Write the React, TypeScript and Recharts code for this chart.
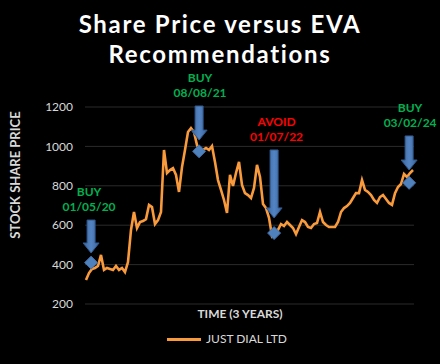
import React from 'react';
import { ComposedChart, Line, Scatter, XAxis, YAxis, CartesianGrid, ReferenceLine } from 'recharts';

// share price, sampled evenly over the three years
const prices = [
  322, 357, 378, 383, 393, 449, 373, 383, 378, 373,
  393, 373, 383, 362, 413, 576, 667, 586, 616, 621,
  631, 703, 692, 606, 626, 667, 982, 865, 880, 890,
  855, 769, 895, 982, 1073, 1093, 1073, 1007, 972, 982,
  992, 982, 1002, 921, 829, 779, 728, 662, 855, 799,
  865, 921, 804, 763, 753, 738, 789, 906, 845, 708,
  687, 637, 545, 560, 576, 606, 596, 616, 601, 586,
  555, 591, 626, 616, 591, 586, 606, 611, 667, 616,
  601, 591, 591, 591, 616, 667, 687, 697, 713, 738,
  763, 763, 829, 779, 769, 753, 728, 713, 743, 753,
  733, 713, 703, 763, 794, 809, 860, 845, 865, 880,
];

// EVA recommendations
const signalStep = [1.7, 37.7, 62.7, 107.7];
const signalPrice = [410, 975, 560, 815];
const signalAction = ['BUY', 'BUY', 'AVOID', 'BUY'];
const signalDate = ['01/05/20', '08/08/21', '01/07/22', '03/02/24'];
const arrowFrom = [626, 1205, 982, 1053];
const arrowTo = [459, 1032, 637, 880];

const yTicks = [200, 400, 600, 800, 1000, 1200];

const series = prices.map((p, i) => ({ t: i, price: p }));
const signals = signalStep.map((t, i) => ({ t, price: signalPrice[i] }));

const FONT = 'Lato, "Open Sans", sans-serif';
const LINE = '#f99a3c';
const labelDx = [-2, 1, 2.5, 1];

const Diamond = (props: any) => {
  const { cx, cy } = props;
  const r = 6.5;
  return (
    <polygon
      points={`${cx},${cy - r} ${cx + r},${cy} ${cx},${cy + r} ${cx - r},${cy}`}
      fill="#4f81bd"
      stroke="#3f6ea8"
      strokeWidth={1}
    />
  );
};

const makeArrow = (i: number) => (props: any) => {
  const { x1, y1, y2 } = props;
  const x = x1;
  const color = signalAction[i] === 'AVOID' ? '#ff0000' : '#00b050';
  const tx = x + labelDx[i];
  return (
    <g>
      <polygon
        points={`${x - 4},${y1} ${x + 4},${y1} ${x + 4},${y2 - 10} ${x + 8},${y2 - 10} ${x},${y2} ${x - 8},${y2 - 10} ${x - 4},${y2 - 10}`}
        fill="url(#arrowFill)"
        stroke="#2f5a8f"
        strokeWidth={1}
      />
      <text x={tx} y={y1 - 24} textAnchor="middle" fill={color} fontSize={12} fontWeight={700} fontFamily={FONT}>
        {signalAction[i]}
      </text>
      <text x={tx} y={y1 - 9} textAnchor="middle" fill={color} fontSize={12} fontWeight={700} fontFamily={FONT}>
        {signalDate[i]}
      </text>
    </g>
  );
};

export default function App() {
  const titleStyle: React.CSSProperties = {
    position: 'absolute', left: 0, width: 440, textAlign: 'center',
    color: '#fff', fontSize: 24, fontWeight: 700, lineHeight: '20px', letterSpacing: 1.7,
  };
  return (
    <div style={{ position: 'absolute', left: 0, top: 0, width: 440, height: 364, background: '#000', fontFamily: FONT }}>
      <div style={{ ...titleStyle, top: 14 }}>Share Price versus EVA</div>
      <div style={{ ...titleStyle, top: 44 }}>Recommendations</div>

      <ComposedChart width={440} height={364} data={series} margin={{ top: 107, right: 26, bottom: 60, left: 0 }}>
        <defs>
          <linearGradient id="arrowFill" x1="0" y1="0" x2="1" y2="0">
            <stop offset="0%" stopColor="#3a65a0" />
            <stop offset="50%" stopColor="#5484c2" />
            <stop offset="100%" stopColor="#3a65a0" />
          </linearGradient>
        </defs>
        <CartesianGrid horizontal vertical={false} stroke="#2b2b2b" strokeWidth={1} />
        <XAxis dataKey="t" type="number" domain={[-0.33, 109.33]} hide />
        <YAxis
          type="number"
          domain={[200, 1200]}
          ticks={yTicks}
          width={85}
          axisLine={false}
          tickLine={false}
          tickSize={0}
          tickMargin={12}
          tick={{ fill: '#d9d9d9', fontSize: 12, fontFamily: FONT }}
        />
        <Line
          type="linear"
          dataKey="price"
          stroke={LINE}
          strokeWidth={2.6}
          dot={false}
          isAnimationActive={false}
        />
        {signals.map((s, i) => (
          <ReferenceLine
            key={i}
            segment={[{ x: s.t, y: arrowFrom[i] }, { x: s.t, y: arrowTo[i] }]}
            ifOverflow="visible"
            shape={makeArrow(i)}
          />
        ))}
        <Scatter data={signals} dataKey="price" shape={Diamond} isAnimationActive={false} />
      </ComposedChart>

      <div
        style={{
          position: 'absolute', left: 15, top: 175, transform: 'translate(-50%, -50%) rotate(-90deg)',
          color: '#d9d9d9', fontSize: 13, fontWeight: 700, whiteSpace: 'nowrap',
        }}
      >
        STOCK SHARE PRICE
      </div>
      <div
        style={{
          position: 'absolute', left: 0, top: 306, width: 480, textAlign: 'center',
          color: '#d9d9d9', fontSize: 12, fontWeight: 700, lineHeight: '16px',
        }}
      >
        TIME (3 YEARS)
      </div>
      <div
        style={{
          position: 'absolute', left: 167, top: 331, display: 'flex', alignItems: 'center',
          color: '#d9d9d9', fontSize: 12, lineHeight: '16px',
        }}
      >
        <span style={{ display: 'inline-block', width: 34, height: 3, background: LINE, marginRight: 5 }} />
        JUST DIAL LTD
      </div>
    </div>
  );
}
